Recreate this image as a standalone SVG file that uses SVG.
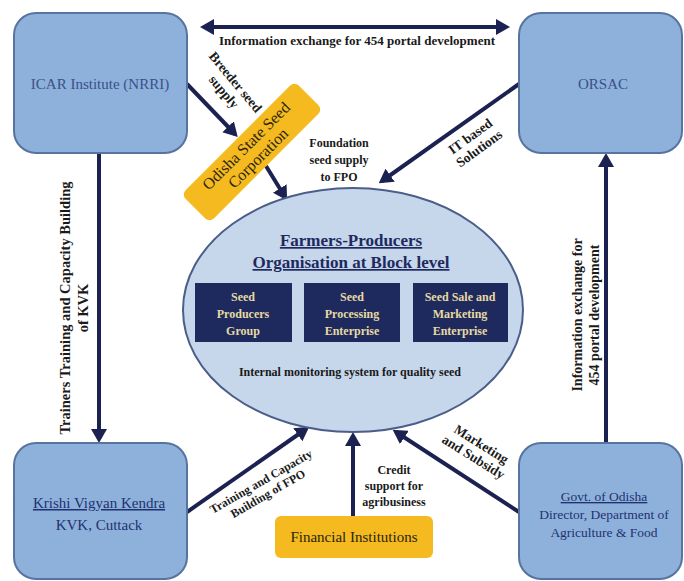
<svg xmlns="http://www.w3.org/2000/svg" width="684" height="581" viewBox="0 0 684 581">
<defs>
<style>
.box{fill:#8eb1dc;stroke:#57739f;stroke-width:2}
.yel{fill:#f4ba1f}
.inner{fill:#1e2a5e}
.ln{stroke:#1b2151;stroke-width:4;fill:none}
text{font-family:"Liberation Serif","Times New Roman",serif}
.lbl{font-weight:bold;font-size:12px;fill:#1a1a1a;text-anchor:middle}
.rl{font-weight:bold;font-size:13.5px;fill:#1a1a1a;text-anchor:middle}
.top{font-weight:bold;font-size:13px;fill:#1a1a1a;text-anchor:middle}
.vl{font-weight:bold;font-size:14.5px;fill:#1a1a1a;text-anchor:middle}
.vr{font-weight:bold;font-size:14px;fill:#1a1a1a;text-anchor:middle}
.nt{font-size:15px;fill:#3a5088;text-anchor:middle}
.nt2{font-size:13.5px;fill:#1f3170;text-anchor:middle}
.nt3{font-size:15px;fill:#1f3170;text-anchor:middle}
.it{font-weight:bold;font-size:12px;fill:#e6d9a3;text-anchor:middle}
.yt{font-size:15px;fill:#2a2410;text-anchor:middle}
.yt2{font-size:16px;fill:#2a2410;text-anchor:middle}
.ttl{font-weight:bold;font-size:17px;fill:#1e2a5e;text-anchor:middle;text-decoration:underline}
</style>
<marker id="ah" viewBox="0 0 14 16" refX="10" refY="8" markerWidth="14" markerHeight="16" markerUnits="userSpaceOnUse" orient="auto-start-reverse">
<path d="M0,0 L14,8 L0,16 z" fill="#1b2151"/>
</marker>
</defs>
<rect width="684" height="581" fill="#ffffff"/>

<g id="connectors">
<line class="ln" x1="204" y1="27" x2="506" y2="27" marker-start="url(#ah)" marker-end="url(#ah)"/>
<line class="ln" x1="187" y1="84" x2="235" y2="134" marker-end="url(#ah)"/>
<line class="ln" x1="266" y1="166" x2="285" y2="197" marker-end="url(#ah)"/>
<line class="ln" x1="519" y1="84" x2="382" y2="181" marker-end="url(#ah)"/>
<line class="ln" x1="99" y1="153" x2="99" y2="439" marker-end="url(#ah)"/>
<line class="ln" x1="606" y1="443" x2="606" y2="157" marker-end="url(#ah)"/>
<line class="ln" x1="187" y1="512" x2="306" y2="429" marker-end="url(#ah)"/>
<line class="ln" x1="353" y1="516" x2="353" y2="436" marker-end="url(#ah)"/>
<line class="ln" x1="519" y1="512" x2="396" y2="432" marker-end="url(#ah)"/>

<text class="top" x="357" y="45">Information exchange for 454 portal development</text>
<g transform="translate(232,85) rotate(50)"><text class="rl" x="0" y="0">Breeder seed</text><text class="rl" x="0" y="15">supply</text></g>
<text class="lbl" x="339" y="147">Foundation</text>
<text class="lbl" x="339" y="164">seed supply</text>
<text class="lbl" x="339" y="181">to FPO</text>
<g transform="translate(473,140) rotate(-36)"><text class="rl" x="0" y="0">IT based</text><text class="rl" x="0" y="15">Solutions</text></g>
<g transform="translate(70,308) rotate(-90)"><text class="vl" x="0" y="0">Trainers Training  and Capacity Building</text><text class="vl" x="0" y="18">of KVK</text></g>
<g transform="translate(582,315) rotate(-90)"><text class="vr" x="0" y="0">Information exchange for</text><text class="vr" x="0" y="17">454 portal development</text></g>
<g transform="translate(263,485) rotate(-30)"><text class="lbl" x="0" y="0">Training and Capacity</text><text class="lbl" x="0" y="14">Building of FPO</text></g>
<text class="lbl" x="394" y="474">Credit</text>
<text class="lbl" x="394" y="490">support for</text>
<text class="lbl" x="394" y="506">agribusiness</text>
<g transform="translate(479,448) rotate(32)"><text class="rl" x="0" y="0">Marketing</text><text class="rl" x="0" y="15">and Subsidy</text></g>
</g>

<g id="icar">
<rect class="box" x="14" y="13" width="173" height="140" rx="22"/>
<text class="nt" x="100" y="89">ICAR Institute (NRRI)</text>
</g>
<g id="orsac">
<rect class="box" x="519" y="13" width="163" height="140" rx="22"/>
<text class="nt" x="603" y="89">ORSAC</text>
</g>
<g id="kvk">
<rect class="box" x="14" y="443" width="173" height="136" rx="22"/>
<text class="nt3" x="99" y="508" text-decoration="underline">Krishi Vigyan Kendra</text>
<text class="nt3" x="99" y="530">KVK, Cuttack</text>
</g>
<g id="govt">
<rect class="box" x="519" y="443" width="163" height="136" rx="22"/>
<text class="nt2" x="604" y="501" text-decoration="underline">Govt. of Odisha</text>
<text class="nt2" x="604" y="519">Director, Department of</text>
<text class="nt2" x="604" y="537">Agriculture &amp; Food</text>
</g>
<g id="ossc" transform="translate(252,152) rotate(-45)">
<rect class="yel" x="-80" y="-20" width="160" height="40" rx="6"/>
<text class="yt2" x="0" y="-3">Odisha State Seed</text>
<text class="yt2" x="0" y="14">Corporation</text>
</g>
<g id="financial">
<rect class="yel" x="275" y="516" width="158" height="42" rx="6"/>
<text class="yt" x="354" y="542">Financial Institutions</text>
</g>
<g id="fpo">
<ellipse cx="353" cy="310" rx="170" ry="122" fill="#c6d6eb" stroke="#4b5e8a" stroke-width="2"/>
<text class="ttl" x="351" y="246">Farmers-Producers</text>
<text class="ttl" x="351" y="268">Organisation at Block level</text>
<rect class="inner" x="195" y="283" width="97" height="59"/>
<text class="it" x="243" y="301">Seed</text>
<text class="it" x="243" y="318">Producers</text>
<text class="it" x="243" y="335">Group</text>
<rect class="inner" x="304" y="283" width="96" height="59"/>
<text class="it" x="352" y="301">Seed</text>
<text class="it" x="352" y="318">Processing</text>
<text class="it" x="352" y="335">Enterprise</text>
<rect class="inner" x="413" y="283" width="95" height="59"/>
<text class="it" x="460" y="301">Seed Sale and</text>
<text class="it" x="460" y="318">Marketing</text>
<text class="it" x="460" y="335">Enterprise</text>
<text class="lbl" x="350" y="376">Internal monitoring system for quality seed</text>
</g>
</svg>
